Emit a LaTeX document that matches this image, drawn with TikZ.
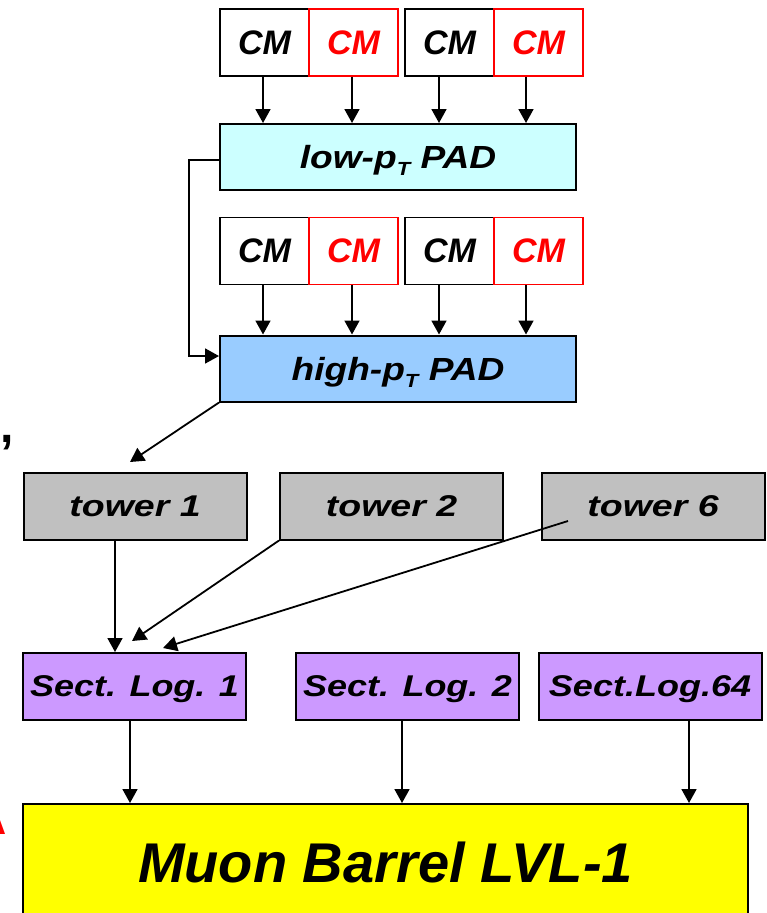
\documentclass[tikz,border=0pt]{standalone}
\usepackage{graphicx}
\usepackage{fontspec}
\setmainfont{Liberation Sans}
\usetikzlibrary{arrows.meta,calc}

\definecolor{padlow}{HTML}{CCFFFF}
\definecolor{padhigh}{HTML}{99CCFF}
\definecolor{towergray}{HTML}{C0C0C0}
\definecolor{slpurple}{HTML}{CC99FF}
\definecolor{lvlyellow}{HTML}{FFFF00}

% horizontally stretched label text
\newcommand\wider[2]{\scalebox{#1}[1]{#2}}
% p with a subscript T
\newcommand\pT{p\raisebox{-0.22em}{\fontsize{19pt}{19pt}\selectfont T}}

\begin{document}
\begin{tikzpicture}[x=1pt,y=-1pt,
  cmbox/.style={draw, line width=1.3pt, minimum width=89pt, minimum height=67pt,
    inner sep=0pt, font=\fontsize{34pt}{36pt}\selectfont\bfseries\itshape},
  cmred/.style={cmbox, draw=red, text=red},
  padbox/.style={draw, line width=2pt, minimum width=356pt, minimum height=66pt,
    inner sep=0pt, text depth=0pt, font=\fontsize{32pt}{36pt}\selectfont\bfseries\itshape},
  towerbox/.style={draw, line width=2pt, fill=towergray, minimum width=223pt, minimum height=67pt,
    inner sep=0pt, text depth=0pt, font=\fontsize{30pt}{34pt}\selectfont\bfseries\itshape},
  slbox/.style={towerbox, fill=slpurple},
  arr/.style={line width=1.8pt, -{Triangle[length=14pt,width=15pt]}},
]
\clip (0,0) rectangle (767,913);

% chamber modules feeding the low-pT pad
\node[cmbox] (a1) at (264.5,42.5) {CM};
\node[cmbox] (a3) at (449.5,42.5) {CM};
\node[cmred] (a2) at (353.5,42.5) {CM};
\node[cmred] (a4) at (538.5,42.5) {CM};
\node[padbox, fill=padlow] (lowpad) at (398,157) {\wider{1.16}{low-\pT{} PAD}};

% chamber modules feeding the high-pT pad
\node[cmbox] (b1) at (264.5,251) {CM};
\node[cmbox] (b3) at (449.5,251) {CM};
\node[cmred] (b2) at (353.5,251) {CM};
\node[cmred] (b4) at (538.5,251) {CM};
\node[padbox, fill=padhigh] (highpad) at (398,368.5) {\wider{1.16}{high-\pT{} PAD}};

\foreach \n/\s in {a1/-1.5, a2/-1.5, a3/-10.5, a4/-12.5}
  \draw[arr] ([xshift=\s pt]\n.south) -- ([xshift=\s pt]\n.south |- lowpad.north);
\foreach \n/\s in {b1/-1.5, b2/-1.5, b3/-10.5, b4/-12.5}
  \draw[arr] ([xshift=\s pt]\n.south) -- ([xshift=\s pt]\n.south |- highpad.north);

% low-pT result forwarded to the high-pT pad
\draw[arr] ([yshift=-3pt]lowpad.west) -- ++(-30,0) |- ([yshift=12.5pt]highpad.west);

% towers
\node[towerbox] (tw1) at (135,506) {\wider{1.25}{tower 1}};
\node[towerbox] (tw2) at (391.5,506) {\wider{1.25}{tower 2}};
\node[towerbox] (tw6) at (653,506) {\wider{1.25}{tower 6}};

\coordinate (t1in) at (130,462);
\draw[arr] (highpad.south west) -- (t1in);

% sector logic boards
\node[slbox] (sl1) at (134.5,686.5) {\wider{1.2}{Sect. Log. 1}};
\node[slbox] (sl2) at (407.5,686.5) {\wider{1.2}{Sect. Log. 2}};
\node[slbox] (sl64) at (650,686.5) {\wider{1.2}{Sect.Log.64}};

\coordinate (t2in) at (132,641);
\coordinate (t6out) at (568,521);
\coordinate (t6in) at (163,648);
\draw[arr] ([xshift=-20pt]tw1.south) -- ([xshift=-20pt]tw1.south |- sl1.north);
\draw[arr] (tw2.south west) -- (t2in);
\draw[arr] (t6out) -- (t6in);

% level-1 muon barrel trigger
\node[draw, line width=2pt, fill=lvlyellow, minimum width=725pt, minimum height=116pt,
  inner sep=0pt, font=\fontsize{56pt}{60pt}\selectfont\bfseries\itshape]
  (muon) at (385.5,862) {Muon Barrel LVL-1};

\foreach \n/\s in {sl1/-4.5, sl2/-5.5, sl64/39}
  \draw[arr] ([xshift=\s pt]\n.south) -- ([xshift=\s pt]\n.south |- muon.north);

% text fragments at the left edge
\node[anchor=base west, inner sep=0pt, font=\fontsize{48pt}{48pt}\selectfont\bfseries]
  (comma) at (0,442) {,};
\node[anchor=base east, inner sep=0pt, text=red, font=\fontsize{36pt}{36pt}\selectfont\bfseries]
  (redA) at (7,834) {A};
\end{tikzpicture}
\end{document}
